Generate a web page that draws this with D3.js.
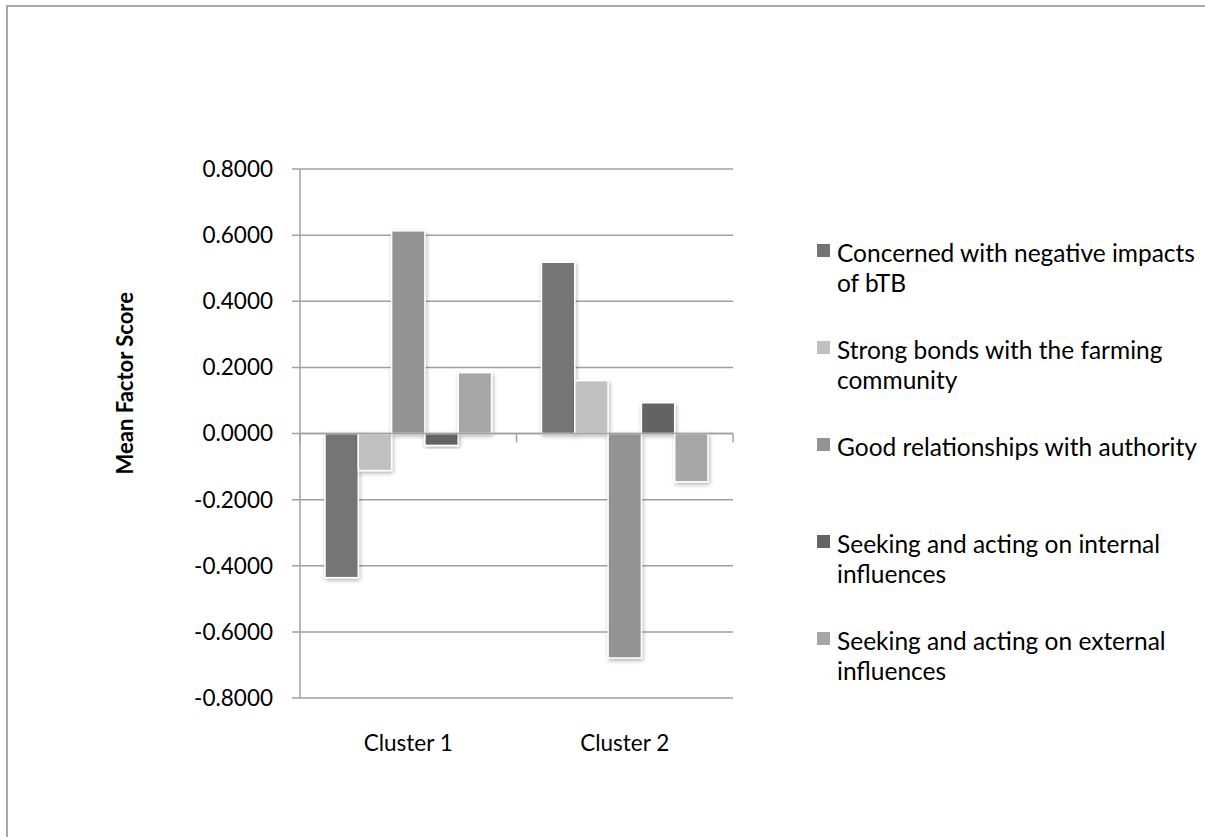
<!DOCTYPE html>
<html>
<head>
<meta charset="utf-8">
<script src="https://cdn.jsdelivr.net/npm/d3@7"></script>
<style>
  html, body { margin: 0; padding: 0; background: #fff; }
  svg { display: block; }
  text { font-family: Lato, "Open Sans", sans-serif; fill: #000; }
</style>
</head>
<body>
<script>
// ---- data ----
const categories = ["Cluster 1", "Cluster 2"];
const seriesNames = [
  "Concerned with negative impacts of bTB",
  "Strong bonds with the farming community",
  "Good relationships with authority",
  "Seeking and acting on internal influences",
  "Seeking and acting on external influences"
];
const legendLines = [
  ["Concerned with negative impacts", "of bTB"],
  ["Strong bonds with the farming", "community"],
  ["Good relationships with authority"],
  ["Seeking and acting on internal", "influences"],
  ["Seeking and acting on external", "influences"]
];
const concernedValues = [-0.436, 0.518];
const strongBondsValues = [-0.112, 0.160];
const goodRelValues = [0.613, -0.679];
const internalValues = [-0.036, 0.093];
const externalValues = [0.184, -0.146];
const seriesValues = [concernedValues, strongBondsValues, goodRelValues, internalValues, externalValues];
const yTicks = [-0.8, -0.6, -0.4, -0.2, 0, 0.2, 0.4, 0.6, 0.8];
const colors = ["#747474", "#c0c0c0", "#939393", "#646464", "#a6a6a6"];

// ---- layout ----
const W = 1205, H = 837;
const svg = d3.select("body").append("svg").attr("width", W).attr("height", H);

const defs = svg.append("defs");
const f = defs.append("filter").attr("id", "shadow")
  .attr("x", "-30%").attr("y", "-30%").attr("width", "160%").attr("height", "160%");
f.append("feDropShadow").attr("dx", 1).attr("dy", 2).attr("stdDeviation", 2)
  .attr("flood-color", "#000").attr("flood-opacity", 0.3);

// outer border (extends beyond the viewport on right/bottom)
svg.append("rect").attr("x", 7).attr("y", 6).attr("width", 1220).attr("height", 860)
  .attr("fill", "none").attr("stroke", "#a8a8a8").attr("stroke-width", 2);

const plotLeft = 300, plotRight = 733, plotTop = 169, plotBottom = 698;
const y = d3.scaleLinear().domain([-0.8, 0.8]).range([plotBottom, plotTop]);
const x = d3.scaleBand().domain(categories).range([plotLeft, plotRight]).padding(0);
const xs = d3.scaleBand().domain(d3.range(seriesNames.length))
  .range([0, x.bandwidth()]).paddingInner(0).paddingOuter(0.75);

const axisColor = "#a0a0a0";
const fmt = d3.formatLocale({ decimal: ".", thousands: ",", grouping: [3], currency: ["", ""], minus: "-" }).format(".4f");

// gridlines
svg.append("g").selectAll("line").data(yTicks).join("line")
  .attr("x1", plotLeft - 8).attr("x2", plotRight)
  .attr("y1", d => y(d)).attr("y2", d => y(d))
  .attr("stroke", axisColor).attr("stroke-width", 1.5);

// y axis line
svg.append("line").attr("x1", plotLeft).attr("x2", plotLeft)
  .attr("y1", plotTop).attr("y2", plotBottom)
  .attr("stroke", axisColor).attr("stroke-width", 1.5);

// y tick labels
svg.append("g").selectAll("text").data(yTicks).join("text")
  .attr("x", 273).attr("y", d => y(d))
  .attr("dy", "0.35em").attr("text-anchor", "end")
  .style("font-size", "22.5px")
  .text(d => fmt(d));

// bars
const groups = svg.append("g").selectAll("g").data(categories).join("g")
  .attr("transform", c => `translate(${x(c)},0)`);
groups.selectAll("rect").data((c, ci) => seriesValues.map((vals, si) => ({ si, v: vals[ci] })))
  .join("rect")
  .attr("x", d => xs(d.si))
  .attr("width", xs.bandwidth())
  .attr("y", d => y(Math.max(0, d.v)))
  .attr("height", d => Math.abs(y(d.v) - y(0)))
  .attr("fill", d => colors[d.si])
  .attr("stroke", "#fff").attr("stroke-width", 1.5)
  .attr("filter", "url(#shadow)");

// x axis at zero
svg.append("line").attr("x1", plotLeft).attr("x2", plotRight)
  .attr("y1", y(0)).attr("y2", y(0))
  .attr("stroke", axisColor).attr("stroke-width", 1.5);
const xTickPos = [plotLeft].concat(categories.map(c => x(c) + x.bandwidth()));
svg.append("g").selectAll("line").data(xTickPos).join("line")
  .attr("x1", d => d).attr("x2", d => d)
  .attr("y1", y(0)).attr("y2", y(0) + 9)
  .attr("stroke", axisColor).attr("stroke-width", 1.5);

// category labels
svg.append("g").selectAll("text").data(categories).join("text")
  .attr("x", c => x(c) + x.bandwidth() / 2).attr("y", 743)
  .attr("dy", "0.35em").attr("text-anchor", "middle")
  .style("font-size", "22.5px")
  .text(c => c);

// y axis title
svg.append("text")
  .attr("transform", `translate(133, 292) rotate(-90)`)
  .attr("text-anchor", "end")
  .style("font-size", "22px").style("font-weight", "bold")
  .text("Mean Factor Score");

// legend
const legend = svg.append("g").selectAll("g").data(legendLines).join("g")
  .attr("transform", (d, i) => `translate(817, ${262 + i * 97})`);
legend.append("rect").attr("x", 0).attr("y", -18).attr("width", 13).attr("height", 13)
  .attr("fill", (d, i) => colors[i]);
legend.selectAll("text").data(d => d).join("text")
  .attr("x", 20).attr("y", (d, i) => i * 30)
  .style("font-size", "24.5px")
  .text(d => d);
</script>
</body>
</html>
